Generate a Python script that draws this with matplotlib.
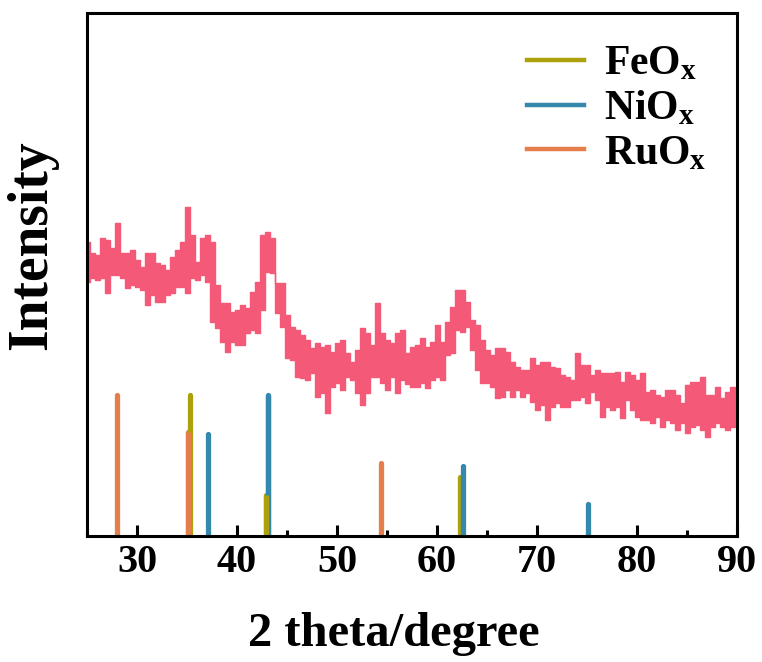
import numpy as np
import matplotlib
matplotlib.use("Agg")
import matplotlib.pyplot as plt
from matplotlib.ticker import MultipleLocator

plt.rcParams['font.family'] = ['Liberation Serif', 'DejaVu Serif']
plt.rcParams['font.weight'] = 'bold'
plt.rcParams['mathtext.fontset'] = 'custom'
plt.rcParams['mathtext.rm'] = 'Liberation Serif:bold'
plt.rcParams['mathtext.bf'] = 'Liberation Serif:bold'
plt.rcParams['mathtext.it'] = 'Liberation Serif:bold:italic'

# XRD scan, read as upper / lower trace every 0.5 degree (25 -> 90)
two_theta = np.arange(25.0, 90.01, 0.5)
upper = [294, 283, 281, 298, 296, 288, 313, 283, 283, 286,
         276, 269, 283, 283, 273, 271, 266, 279, 286, 294,
         329, 301, 274, 298, 301, 294, 251, 233, 233, 224,
         226, 231, 228, 244, 254, 301, 304, 298, 253, 253,
         221, 209, 206, 201, 196, 188, 193, 189, 191, 184,
         193, 196, 183, 174, 186, 208, 203, 191, 233, 203,
         196, 193, 203, 206, 183, 189, 191, 198, 189, 194,
         211, 194, 214, 229, 246, 246, 234, 216, 211, 196,
         186, 181, 188, 188, 184, 174, 169, 166, 166, 178,
         171, 174, 174, 169, 168, 161, 159, 156, 183, 171,
         171, 161, 166, 163, 163, 163, 164, 154, 164, 161,
         156, 163, 144, 146, 141, 139, 146, 146, 141, 133,
         151, 154, 154, 159, 141, 141, 149, 138, 144, 149,
         141]
lower = [254, 258, 256, 258, 243, 261, 261, 258, 248, 251,
         249, 246, 231, 241, 234, 234, 241, 243, 249, 249,
         243, 258, 256, 261, 254, 214, 208, 194, 184, 194,
         191, 191, 203, 206, 203, 226, 264, 263, 223, 209,
         178, 176, 159, 158, 156, 163, 139, 143, 123, 149,
         153, 146, 159, 156, 143, 131, 143, 159, 159, 153,
         146, 159, 143, 156, 152, 149, 149, 153, 148, 156,
         159, 156, 181, 183, 206, 204, 209, 186, 166, 153,
         153, 149, 138, 139, 146, 139, 146, 139, 143, 134,
         126, 131, 116, 129, 133, 129, 129, 136, 136, 139,
         133, 144, 136, 119, 129, 126, 129, 118, 136, 126,
         119, 116, 116, 113, 119, 109, 116, 113, 106, 113,
         103, 109, 111, 106, 99, 109, 113, 109, 106, 109,
         116]

# reference patterns: peak positions and relative intensities
fe_pos = [35.3, 42.9, 62.3]
fe_int = [100, 29, 42]
ni_pos = [37.1, 43.1, 62.6, 75.1]
ni_int = [72, 100, 50, 23]
ru_pos = [28.0, 35.1, 54.4]
ru_int = [100, 74, 52]

c_scan = '#F45A78'
c_fe = '#ACA10B'
c_ni = '#3388AC'
c_ru = '#E67E4C'

fig = plt.figure(figsize=(7.62, 6.62), dpi=100)
ax = fig.add_axes([87 / 762, 126 / 662, 650 / 762, 523 / 662])

# noisy scan drawn as a filled band between the two traces
ax.fill_between(two_theta, lower, upper, step='mid', color=c_scan, lw=0)
ax.step(two_theta, upper, where='mid', color=c_scan, lw=1.0)
ax.step(two_theta, lower, where='mid', color=c_scan, lw=1.0)

stick_scale = 1.41
for pos, inten, col in [(ru_pos, ru_int, c_ru),
                        (fe_pos, fe_int, c_fe),
                        (ni_pos, ni_int, c_ni)]:
    ax.vlines(pos, 0, np.array(inten) * stick_scale, color=col, lw=3.8,
              capstyle='round')
# redraw the overlapping pairs so the front bar matches
ax.vlines([ru_pos[1]], 0, ru_int[1] * stick_scale, color=c_ru, lw=3.8)
ax.vlines([ni_pos[1]], 0, ni_int[1] * stick_scale, color=c_ni, lw=3.8)
ax.vlines([fe_pos[1]], 0, fe_int[1] * stick_scale, color=c_fe, lw=3.8)

ax.plot([], [], color=c_fe, lw=3.2, label=r'FeO$_\mathrm{x}$')
ax.plot([], [], color=c_ni, lw=3.2, label=r'NiO$_\mathrm{x}$')
ax.plot([], [], color=c_ru, lw=3.2, label=r'RuO$_\mathrm{x}$')

ax.set_xlim(25, 90)
ax.set_ylim(0, 523)
ax.xaxis.set_major_locator(MultipleLocator(10))
ax.xaxis.set_minor_locator(MultipleLocator(5))
ax.tick_params(axis='x', which='major', direction='in', length=8, width=2.2,
               labelsize=29, pad=6)
ax.tick_params(axis='x', which='minor', direction='in', length=4, width=2.2)
ax.set_yticks([])
for s in ax.spines.values():
    s.set_linewidth(2.2)

ax.set_xlabel('2 theta/degree', fontsize=35, fontweight='bold')
ax.xaxis.set_label_coords(0.472, -0.145)
ax.set_ylabel('Intensity', fontsize=40, fontweight='bold')
ax.yaxis.set_label_coords(-0.085, 0.556)
ax.yaxis.label.set_verticalalignment('center')
ax.yaxis.label.set_horizontalalignment('center')

ax.legend(loc='upper right', frameon=False, fontsize=30, handlelength=1.35,
          handletextpad=0.5, labelspacing=0.15, bbox_to_anchor=(1.011, 1.01))

fig.savefig('out.png', dpi=100)
